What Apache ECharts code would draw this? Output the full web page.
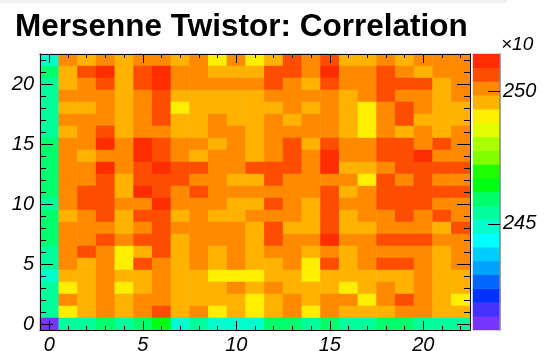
<!DOCTYPE html>
<html><head><meta charset="utf-8">
<script src="https://cdn.jsdelivr.net/npm/echarts@6/dist/echarts.min.js"></script>
<style>html,body{margin:0;padding:0;background:#fff}#c{width:553px;height:351px}</style>
</head><body><div id="c"></div>
<script>
const titleText = 'Mersenne Twistor: Correlation';
const exponentText = '×10';
const xCategories = [0,1,2,3,4,5,6,7,8,9,10,11,12,13,14,15,16,17,18,19,20,21,22];
const yCategories = [0,1,2,3,4,5,6,7,8,9,10,11,12,13,14,15,16,17,18,19,20,21,22];
const xTickLabels = [0,5,10,15,20];
const yTickLabels = [0,5,10,15,20];
const zTickLabels = [245,250];
const zMin = 241.0, zMax = 251.4;
const palette = ['#7733ff','#4433ff','#0033ff','#0066ff','#00a2ff','#00ccff','#00ffff','#00ffcf','#00ff9c','#00ff6a',
                 '#00ff10','#20ff00','#80ff00','#aaff00','#e2ff00','#ffee00','#ffb300','#ff8a00','#ff4d00','#ff2d00'];

// rows listed from y = 22 (top) down to y = 0 (bottom), columns x = 0..22
const rowsTopToBottom = [
 [244.9,250.1,249.6,250.1,249.6,250.1,250.1,249.6,250.1,249.0,250.1,249.0,249.6,250.6,250.1,250.6,249.6,249.6,250.1,249.6,250.1,250.1,250.1],
 [245.9,249.6,250.6,251.1,249.6,250.6,251.1,250.1,250.1,249.6,249.6,249.6,250.6,250.6,250.1,251.1,250.1,250.1,250.6,250.1,249.6,250.1,250.1],
 [245.4,249.6,250.1,250.6,249.6,250.6,251.1,250.1,250.1,250.1,250.1,250.1,250.6,250.1,249.6,250.6,250.1,250.1,250.6,250.6,250.6,249.6,250.1],
 [245.4,250.1,250.1,250.1,249.6,250.1,250.6,249.6,249.6,249.6,249.6,249.6,250.1,250.1,250.1,250.1,249.6,250.1,250.6,250.1,250.1,249.6,250.1],
 [245.4,249.6,249.6,250.1,249.6,250.1,250.6,249.0,249.6,249.6,249.6,249.6,249.6,250.1,249.6,250.1,249.6,249.0,250.1,250.6,250.1,249.6,249.6],
 [245.4,250.1,250.1,250.1,249.6,250.1,250.6,249.6,249.6,250.1,249.6,249.6,250.1,249.6,250.1,250.1,249.6,249.0,250.1,250.6,249.6,249.6,249.6],
 [245.4,249.6,250.1,250.6,249.6,250.1,250.1,249.6,249.6,250.1,250.1,249.6,250.1,250.1,250.1,250.1,249.6,249.0,250.1,249.6,250.1,249.6,250.1],
 [245.9,250.1,250.1,251.1,250.1,251.1,250.6,250.1,250.1,249.6,250.1,249.6,250.1,250.6,249.6,250.6,250.1,250.1,250.6,250.6,250.1,250.6,250.1],
 [245.9,250.1,249.6,250.1,250.1,251.1,250.6,250.1,249.6,250.1,250.1,249.6,250.1,250.6,250.1,251.1,250.1,250.1,250.6,250.6,251.1,250.1,250.1],
 [245.9,250.1,250.1,251.1,250.1,250.6,251.1,250.6,250.6,250.1,250.1,250.6,250.6,250.6,250.1,251.1,249.6,249.6,250.1,250.6,250.6,250.6,250.6],
 [245.9,250.1,250.1,250.6,249.6,250.6,250.6,250.6,250.1,250.1,249.6,249.6,250.6,250.1,250.1,250.1,250.1,249.0,250.6,250.1,250.6,250.1,250.1],
 [245.9,250.1,250.6,250.6,249.6,251.1,250.6,250.1,250.6,250.1,250.1,250.1,250.1,250.1,250.1,250.6,249.6,250.1,250.6,250.6,250.6,250.6,250.6],
 [245.4,250.1,250.6,250.6,250.1,250.1,251.1,250.1,250.1,250.1,249.6,249.6,250.6,250.1,249.6,250.6,250.1,250.1,250.6,250.6,250.6,250.1,250.1],
 [245.9,249.6,250.1,250.6,249.6,250.6,250.6,249.6,250.1,249.6,249.6,250.1,250.1,250.1,249.6,250.6,249.6,250.1,250.1,250.6,250.1,250.6,250.1],
 [245.9,250.1,250.1,250.1,249.6,250.1,250.6,250.1,250.1,250.1,250.1,249.6,250.6,249.6,249.6,250.6,249.6,249.6,250.1,250.1,250.1,249.6,250.6],
 [245.9,250.1,250.1,250.6,250.1,250.6,250.6,249.6,250.1,250.1,250.1,249.6,250.6,250.1,250.1,251.1,250.1,250.1,250.6,250.6,250.6,250.1,250.1],
 [245.4,250.1,250.6,250.1,249.0,249.6,250.6,249.6,250.1,249.6,250.1,249.6,250.1,250.1,249.6,250.1,249.6,250.1,250.1,250.1,250.1,249.6,250.1],
 [245.4,250.1,249.6,250.1,249.0,250.6,250.1,249.6,250.1,249.6,250.1,249.6,249.6,250.1,249.0,250.6,249.6,250.1,250.6,250.6,250.1,249.6,250.1],
 [244.9,249.6,249.6,250.1,249.6,249.6,250.1,249.6,249.6,249.0,249.0,249.0,249.6,249.6,249.0,249.6,249.6,249.6,249.6,249.6,250.1,249.6,249.6],
 [245.4,249.0,249.6,250.1,249.0,249.6,250.1,249.6,249.6,249.6,250.1,249.6,250.1,249.6,249.6,249.6,249.0,249.6,250.1,249.6,250.1,249.6,249.6],
 [245.4,250.1,249.6,250.1,249.6,250.1,250.1,249.6,249.6,249.6,249.6,249.0,249.6,250.1,249.6,250.1,250.1,249.0,250.1,250.6,250.1,249.6,249.0],
 [245.4,249.0,249.6,250.1,249.6,250.1,250.6,249.6,250.1,249.0,249.6,249.0,249.6,250.1,249.0,250.1,249.6,249.6,249.6,250.1,250.1,249.6,249.6],
 [241.3,245.4,245.4,245.9,245.4,245.9,246.4,244.9,245.4,244.9,244.9,244.9,245.9,245.9,245.4,245.9,245.4,245.4,245.9,245.9,245.4,245.4,245.4]
];

const heatData = [];
rowsTopToBottom.forEach((row, r) => {
  const y = yCategories.length - 1 - r;
  row.forEach((v, x) => heatData.push([x, y, v]));
});

const nLevels = palette.length;
const step = (zMax - zMin) / nLevels;
const levelCats = palette.map((c, i) => i);
const barData = palette.map((c, i) => [0, i, zMin + (i + 0.5) * step]);
const pieces = palette.map((c, i) => ({gte: zMin + i * step, lt: zMin + (i + 1) * step + (i === nLevels - 1 ? 1 : 0), color: c}));

const labelFont = {fontFamily: 'Liberation Sans', fontStyle: 'italic', fontSize: 20, color: '#000'};
const tickLine = {color: '#000', width: 1};

function valAxis(pos, len, vals, withLine, labels, margin) {
  return {
    type: 'value', gridIndex: 0, position: pos, min: -0.5, max: 22.5, z: 20,
    axisLine: {show: withLine, onZero: false, lineStyle: {color: '#000', width: 1}},
    axisTick: {show: true, inside: true, length: len, customValues: vals, lineStyle: tickLine},
    axisLabel: labels ? Object.assign({show: true, customValues: labels, margin: margin}, labelFont) : {show: false},
    splitLine: {show: false}, minorTick: {show: false}
  };
}

const chart = echarts.init(document.getElementById('c'), null, {renderer: 'canvas'});
chart.setOption({
  animation: false,
  backgroundColor: '#fff',
  title: [
    {text: titleText, left: 15, top: 11, padding: 0,
     textStyle: {fontFamily: 'Liberation Sans', fontWeight: 'bold', fontSize: 31.5, color: '#000'}},
    {text: exponentText, left: 501, top: 35, padding: 0,
     textStyle: {fontFamily: 'Liberation Sans', fontStyle: 'italic', fontWeight: 'normal', fontSize: 19, color: '#000'}}
  ],
  graphic: [{type: 'rect', shape: {x: 0, y: 0, width: 507, height: 3}, style: {fill: '#f2f2f2'}, silent: true}],
  grid: [
    {left: 40, top: 54, width: 430, height: 276, containLabel: false, outerBoundsMode: 'none'},
    {left: 473, top: 54, width: 27, height: 276, containLabel: false, outerBoundsMode: 'none'}
  ],
  xAxis: [
    {type: 'category', gridIndex: 0, data: xCategories, show: false},
    valAxis('bottom', 9, xTickLabels, true, xTickLabels, 5),
    valAxis('bottom', 4, xCategories, false, null),
    valAxis('top', 9, xTickLabels, true, null),
    valAxis('top', 4, xCategories, false, null),
    {type: 'category', gridIndex: 1, data: ['0'], show: false}
  ],
  yAxis: [
    {type: 'category', gridIndex: 0, data: yCategories, show: false},
    valAxis('left', 13, yTickLabels, true, yTickLabels, 6),
    valAxis('left', 6, yCategories, false, null),
    valAxis('right', 13, yTickLabels, true, null),
    valAxis('right', 6, yCategories, false, null),
    {type: 'category', gridIndex: 1, data: levelCats, show: false},
    {type: 'value', gridIndex: 1, position: 'right', min: zMin, max: zMax, z: 20,
     axisLine: {show: true, onZero: false, lineStyle: {color: '#888', width: 1.5}},
     axisTick: {show: true, inside: true, length: 12, customValues: zTickLabels, lineStyle: tickLine},
     axisLabel: Object.assign({show: true, customValues: zTickLabels, margin: 3}, labelFont),
     splitLine: {show: false}}
  ],
  visualMap: {type: 'piecewise', show: false, seriesIndex: [0, 1], dimension: 2, pieces: pieces},
  series: [
    {type: 'heatmap', xAxisIndex: 0, yAxisIndex: 0, data: heatData, emphasis: {disabled: true}, progressive: 0, z: 2},
    {type: 'heatmap', xAxisIndex: 5, yAxisIndex: 5, data: barData, emphasis: {disabled: true}, progressive: 0, z: 2}
  ]
});
</script></body></html>
